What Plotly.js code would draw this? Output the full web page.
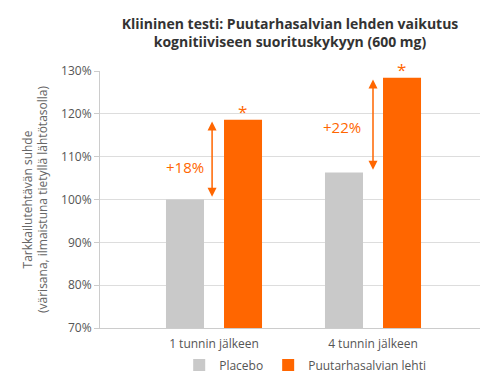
<!DOCTYPE html>
<html><head><meta charset="utf-8">
<script src="https://cdn.plot.ly/plotly-3.0.1.min.js"></script>
<style>html,body{margin:0;padding:0;background:#fff}#c{width:500px;height:390px}</style>
</head><body><div id="c"></div>
<script>
const categories = ["1 tunnin jälkeen", "4 tunnin jälkeen"];
const placebo = [100.0, 106.3];
const sage = [118.6, 128.4];
const seriesNames = ["Placebo", "Puutarhasalvian lehti"];
const diffLabels = ["+18%", "+22%"];
const yTicks = [70, 80, 90, 100, 110, 120, 130];
const yTickText = ["70%", "80%", "90%", "100%", "110%", "120%", "130%"];

const orange = "#FF6600";
const font = "Open Sans, sans-serif";

const traces = [
  {type: "bar", name: seriesNames[0], x: categories, y: placebo, marker: {color: "#C9C9C9"}, hoverinfo: "none"},
  {type: "bar", name: seriesNames[1], x: categories, y: sage, marker: {color: orange}, hoverinfo: "none"}
];

const annotations = [];
const arrowOff = [-0.012, 0.0];
const labelOff = [-0.18, -0.195];
const labelY = [107.7, 117.0];
for (let i = 0; i < categories.length; i++) {
  annotations.push({
    x: i + arrowOff[i], y: sage[i] - 0.4, xref: "x", yref: "y",
    ax: i + arrowOff[i], ay: placebo[i] + 0.3, axref: "x", ayref: "y",
    text: "", showarrow: true, arrowhead: 2, startarrowhead: 2, arrowside: "end+start",
    arrowsize: 1.2, startarrowsize: 1.2, arrowwidth: 1.5, arrowcolor: orange
  });
  annotations.push({
    x: i + labelOff[i], y: labelY[i], xref: "x", yref: "y", text: diffLabels[i], showarrow: false,
    font: {family: font, size: 15, color: orange}
  });
  annotations.push({
    x: i + 0.18, y: sage[i] - 1.2, xref: "x", yref: "y", text: "*", showarrow: false,
    yanchor: "bottom", font: {family: font, size: 17, color: orange}
  });
}

const layout = {
  width: 500, height: 390,
  margin: {l: 100, r: 20, t: 71, b: 61},
  paper_bgcolor: "#fff", plot_bgcolor: "#fff",
  font: {family: font, color: "#555"},
  title: {
    text: "<b>Kliininen testi: Puutarhasalvian lehden vaikutus<br>kognitiiviseen suorituskykyyn (600 mg)</b>",
    font: {family: font, size: 14, color: "#333"},
    x: 0.58, xanchor: "center", y: 0.926, yanchor: "middle"
  },
  barmode: "group", bargap: 0.27, bargroupgap: 0.345,
  showlegend: true,
  legend: {orientation: "h", x: 0.54, xanchor: "center", y: -0.14, yanchor: "middle",
    font: {family: font, size: 12, color: "#555"}, itemwidth: 30, traceorder: "normal"},
  xaxis: {
    type: "category", range: [-0.717, 1.673],
    showline: true, linecolor: "#ccc", linewidth: 1, ticks: "", ticklabelstandoff: 5,
    tickfont: {family: font, size: 12, color: "#555"}
  },
  yaxis: {
    range: [70, 130], tickvals: yTicks, ticktext: yTickText,
    showgrid: true, gridcolor: "#ddd", gridwidth: 1,
    showline: true, linecolor: "#ccc", ticks: "outside", ticklen: 5, tickcolor: "#ccc",
    tickfont: {family: font, size: 12, color: "#555"},
    zeroline: false,
    title: {text: "Tarkkailutehtävän suhde<br>(värisana, ilmaistuna tietyllä lähtötasolla)",
      font: {family: font, size: 12, color: "#666"}, standoff: 10}
  },
  annotations: annotations
};

Plotly.newPlot("c", traces, layout, {staticPlot: true, displayModeBar: false});
</script></body></html>
